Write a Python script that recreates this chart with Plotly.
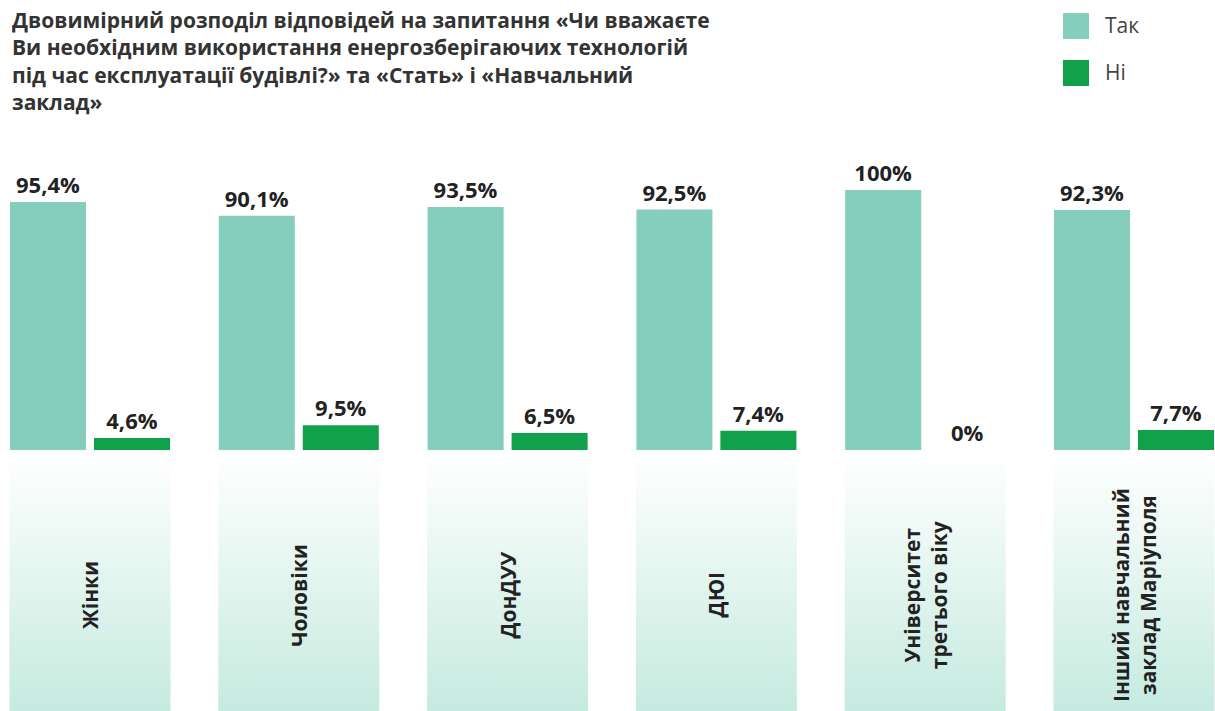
import plotly.graph_objects as go

# ---- data ----
categories = ["Жінки", "Чоловіки", "ДонДУУ", "ДЮІ",
              "Університет<br>третього віку", "Інший навчальний<br>заклад Маріуполя"]
yes_values = [95.4, 90.1, 93.5, 92.5, 100, 92.3]
no_values = [4.6, 9.5, 6.5, 7.4, 0, 7.7]
series_names = ["Так", "Ні"]
title_text = ("Двовимірний розподіл відповідей на запитання «Чи вважаєте<br>"
              "Ви необхідним використання енергозберігаючих технологій<br>"
              "під час експлуатації будівлі?» та «Стать» і «Навчальний<br>"
              "заклад»")

# ---- style ----
W, H = 1215, 711
C_YES = "#85CDBD"
C_NO = "#10A14A"
GRAD_BOTTOM = "#C5EADF"
TXT = "#222222"
FONT = "Open Sans"

def fmt(v):
    s = f"{v:g}".replace(".", ",")
    return s + "%"

# pixel geometry -> axis ranges
pitch = 208.8          # px per category
first_center = 90.0    # px
base_px = 450.0
px_per_unit = 2.6
x_range = [-first_center / pitch, (W - first_center) / pitch]
y_range = [-(H - base_px) / px_per_unit, base_px / px_per_unit]

idx = list(range(len(categories)))

fig = go.Figure()

# gradient boxes under each category
half_box = 80.5 / pitch
box_top = -3.0 / px_per_unit
box_bot = y_range[0] - 1
for i in idx:
    fig.add_trace(go.Scatter(
        x=[i - half_box, i + half_box, i + half_box, i - half_box, i - half_box],
        y=[box_top, box_top, box_bot, box_bot, box_top],
        mode="lines", fill="toself", line=dict(width=0),
        fillgradient=dict(type="vertical",
                          colorscale=[[0, GRAD_BOTTOM], [1, "#FFFFFF"]]),
        hoverinfo="skip", showlegend=False))

for name, vals, col in [(series_names[0], yes_values, C_YES),
                        (series_names[1], no_values, C_NO)]:
    fig.add_trace(go.Bar(
        x=idx, y=vals, name=name, marker=dict(color=col, line=dict(width=0)),
        text=[fmt(v) for v in vals], textposition="outside",
        textfont=dict(family=FONT, size=22, color=TXT, weight="bold"),
        cliponaxis=False, constraintext="none", showlegend=False))

# category labels (rotated)
label_y = -(595 - base_px) / px_per_unit
for i, c in zip(idx, categories):
    fig.add_annotation(x=i, y=label_y, xref="x", yref="y", text=f"<b>{c}</b>",
                       textangle=-90, showarrow=False, align="center",
                       font=dict(family=FONT, size=21, color=TXT))

# title
fig.add_annotation(x=10 / W, y=1 - 4 / H, xref="paper", yref="paper",
                   xanchor="left", yanchor="top", align="left", showarrow=False,
                   text=f"<b>{title_text}</b>",
                   font=dict(family=FONT, size=21, color="#333333"))

# custom legend
for k, (name, col) in enumerate(zip(series_names, [C_YES, C_NO])):
    y0 = 13 + k * 47
    fig.add_shape(type="rect", xref="paper", yref="paper",
                  x0=1063 / W, x1=1089 / W, y0=1 - (y0 + 26) / H, y1=1 - y0 / H,
                  fillcolor=col, line=dict(width=0))
    fig.add_annotation(x=1103 / W, y=1 - (y0 + 12) / H, xref="paper", yref="paper",
                       xanchor="left", yanchor="middle", showarrow=False,
                       text=name, font=dict(family=FONT, size=21, color="#444444"))

fig.update_layout(
    width=W, height=H, margin=dict(l=0, r=0, t=0, b=0),
    paper_bgcolor="white", plot_bgcolor="white",
    barmode="group", bargap=0.1954, bargroupgap=0.095,
    showlegend=False,
    xaxis=dict(range=x_range, visible=False, fixedrange=True),
    yaxis=dict(range=y_range, visible=False, fixedrange=True),
)

fig.write_html("out.html", config={"displayModeBar": False},
               post_script="document.body.style.margin='0';document.body.style.overflow='hidden';")
